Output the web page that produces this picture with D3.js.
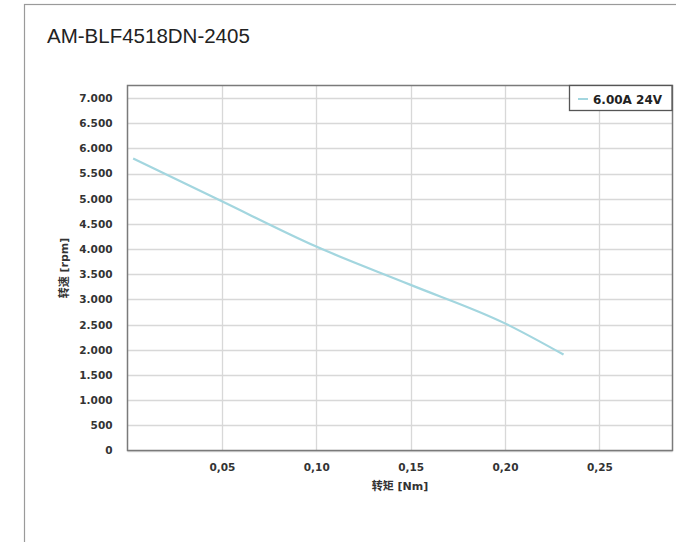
<!DOCTYPE html>
<html>
<head>
<meta charset="utf-8">
<script src="https://cdn.jsdelivr.net/npm/d3@7"></script>
<style>
  html, body { margin: 0; padding: 0; background: #fff; }
  svg { display: block; }
</style>
</head>
<body>
<script>
const title = "AM-BLF4518DN-2405";
const seriesName = "6.00A 24V";
const torque = [0.003, 0.05, 0.10, 0.15, 0.20, 0.231];
const speed = [5800, 4950, 4050, 3290, 2525, 1905];
const xTicks = [0.05, 0.10, 0.15, 0.20, 0.25];
const yTicks = [0, 500, 1000, 1500, 2000, 2500, 3000, 3500, 4000, 4500, 5000, 5500, 6000, 6500, 7000];
const xLabel = "转矩 [Nm]";
const yLabel = "转速 [rpm]";
const xMax = 0.28875, yMax = 7250;

const W = 676, H = 542;
const plot = { left: 127.5, right: 672.5, top: 85.5, bottom: 450.5 };
const numFont = "'DejaVu Sans', 'Noto Sans CJK SC', sans-serif";
const lineColor = "#a3d6df";

const svg = d3.select("body").append("svg").attr("width", W).attr("height", H);

// outer frame
svg.append("rect").attr("x", 24.5).attr("y", 4.5).attr("width", 700).attr("height", 600)
  .attr("fill", "none").attr("stroke", "#9a9a9a").attr("stroke-width", 1.2);

svg.append("text").attr("x", 47).attr("y", 43)
  .attr("font-family", "'Liberation Sans', Arial, sans-serif").attr("font-size", 20.5)
  .attr("fill", "#222").text(title);

const x = d3.scaleLinear().domain([0, xMax]).range([plot.left, plot.right]);
const y = d3.scaleLinear().domain([0, yMax]).range([plot.bottom, plot.top]);

const fmtX = v => d3.format(".2f")(v).replace(".", ",");
const fmtY = v => d3.format(",")(v).replace(/,/g, ".");

// grid
const grid = svg.append("g");
grid.selectAll("line.h").data(yTicks).join("line")
  .attr("x1", plot.left).attr("x2", plot.right)
  .attr("y1", d => Math.round(y(d)) + 0.5).attr("y2", d => Math.round(y(d)) + 0.5)
  .attr("stroke", "#d8d8d8").attr("stroke-width", 1.3);
grid.selectAll("line.v").data(xTicks).join("line")
  .attr("y1", plot.top).attr("y2", plot.bottom)
  .attr("x1", d => Math.round(x(d)) + 0.5).attr("x2", d => Math.round(x(d)) + 0.5)
  .attr("stroke", "#d8d8d8").attr("stroke-width", 1.3);

// axes (labels only)
const xAxis = d3.axisBottom(x).tickValues(xTicks).tickFormat(fmtX).tickSize(0).tickPadding(13);
const gx = svg.append("g").attr("transform", `translate(0,${plot.bottom})`).call(xAxis);
gx.select(".domain").remove();
gx.selectAll("text").attr("font-family", numFont).attr("font-size", 10.5)
  .attr("font-weight", "bold").attr("fill", "#333");

const yAxis = d3.axisLeft(y).tickValues(yTicks).tickFormat(fmtY).tickSize(0).tickPadding(15);
const gy = svg.append("g").attr("transform", `translate(${plot.left},0)`).call(yAxis);
gy.select(".domain").remove();
gy.selectAll("text").attr("font-family", numFont).attr("font-size", 10.5)
  .attr("font-weight", "bold").attr("fill", "#333");

// plot border
svg.append("rect").attr("x", plot.left).attr("y", plot.top)
  .attr("width", plot.right - plot.left).attr("height", plot.bottom - plot.top)
  .attr("fill", "none").attr("stroke", "#7a7a7a").attr("stroke-width", 1.5);

// axis titles
svg.append("text").attr("x", (plot.left + plot.right) / 2).attr("y", 490)
  .attr("text-anchor", "middle").attr("font-family", numFont).attr("font-size", 11)
  .attr("font-weight", "bold").attr("fill", "#333").text(xLabel);
svg.append("text").attr("transform", `translate(68,${(plot.top + plot.bottom) / 2}) rotate(-90)`)
  .attr("text-anchor", "middle").attr("font-family", numFont).attr("font-size", 11)
  .attr("font-weight", "bold").attr("fill", "#333").text(yLabel);

// line
const pts = torque.map((t, i) => [t, speed[i]]);
svg.append("path").datum(pts)
  .attr("d", d3.line().x(d => x(d[0])).y(d => y(d[1])).curve(d3.curveMonotoneX))
  .attr("fill", "none").attr("stroke", lineColor).attr("stroke-width", 2.2);

// legend
const lg = svg.append("g");
lg.append("rect").attr("x", 569.5).attr("y", 85.5).attr("width", 102.5).attr("height", 25)
  .attr("fill", "#fff").attr("stroke", "#555").attr("stroke-width", 1.3);
lg.append("line").attr("x1", 578).attr("x2", 588).attr("y1", 99).attr("y2", 99)
  .attr("stroke", lineColor).attr("stroke-width", 2);
lg.append("text").attr("x", 593).attr("y", 103.5).attr("font-family", numFont)
  .attr("font-size", 12).attr("font-weight", "bold").attr("fill", "#222").text(seriesName);
</script>
</body>
</html>
